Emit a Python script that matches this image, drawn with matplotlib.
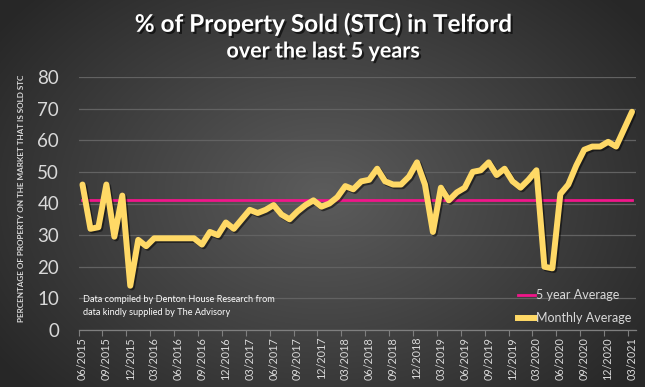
import numpy as np
import matplotlib
matplotlib.use("Agg")
import matplotlib.pyplot as plt
import matplotlib.patheffects as pe
from matplotlib.lines import Line2D

# ---------------- data ----------------
monthly_average = [
    46, 32, 32.5, 46, 29.5, 42.5, 14, 28.5, 26.5, 29,      # 06/2015 - 03/2016
    29, 29, 29, 29, 29, 27, 31, 30, 34, 32,                # 04/2016 - 01/2017
    35, 38, 37, 38, 39.5, 36.5, 35, 37.5, 39.5, 41,        # 02/2017 - 11/2017
    39, 40, 42, 45.5, 44.5, 47, 47.5, 51, 47, 46,          # 12/2017 - 09/2018
    46, 48.5, 53, 46, 31, 45, 41, 43.5, 45, 50,            # 10/2018 - 07/2019
    50.5, 53, 49, 51, 47, 45, 47.5, 50.5, 20, 19.5,        # 08/2019 - 05/2020
    43, 46, 52, 57, 58, 58, 59.5, 58, 63.5, 69,            # 06/2020 - 03/2021
]
five_year_average = 41.1
tick_labels = [
    "06/2015", "09/2015", "12/2015", "03/2016", "06/2016", "09/2016",
    "12/2016", "03/2017", "06/2017", "09/2017", "12/2017", "03/2018",
    "06/2018", "09/2018", "12/2018", "03/2019", "06/2019", "09/2019",
    "12/2019", "03/2020", "06/2020", "09/2020", "12/2020", "03/2021",
]
title = "% of Property Sold (STC) in Telford"
subtitle = "over the last 5 years"
y_label = "PERCENTAGE OF PROPERTY ON THE MARKET THAT IS SOLD STC"
note = "Data compiled by Denton House Research from\ndata kindly supplied by The Advisory"
legend_labels = ["5 year Average", "Monthly Average"]

# ---------------- style ----------------
FONT = ["Lato", "DejaVu Sans"]
plt.rcParams["font.family"] = FONT
W, H = 645, 387
YELLOW = "#FFD966"
PINK = "#F0168A"
TXT = "#D9D9D9"

fig = plt.figure(figsize=(W / 100, H / 100), dpi=100)

# radial gradient background
bg = fig.add_axes([0, 0, 1, 1], zorder=-10)
gy, gx = np.mgrid[0:H, 0:W]
r = np.sqrt(((gx - W * 0.5) / (W * 0.62)) ** 2 + ((gy - H * 0.5) / (H * 0.75)) ** 2)
r = np.clip(r, 0, 1)
inner = np.array([0x5C, 0x5C, 0x5C]) / 255
outer = np.array([0x27, 0x27, 0x27]) / 255
img = inner[None, None, :] * (1 - r[..., None]) + outer[None, None, :] * r[..., None]
bg.imshow(img, aspect="auto", extent=[0, 1, 0, 1])
bg.axis("off")

# main axes
left, right, top, bottom = 78.5, 636, 77, 330
ax = fig.add_axes([left / W, 1 - bottom / H, (right - left) / W, (bottom - top) / H])
ax.set_facecolor("none")

x = np.arange(len(monthly_average))
ax.set_xlim(-0.5, len(monthly_average) - 0.5)
ax.set_ylim(0, 80)
ax.set_yticks(np.arange(0, 81, 10))
ax.grid(axis="y", color="#626262", linewidth=0.9)
ax.set_axisbelow(True)
for s in ["top", "right", "left"]:
    ax.spines[s].set_visible(False)
ax.spines["bottom"].set_color("#7F7F7F")
ax.spines["bottom"].set_linewidth(0.9)

ax.set_xticks(np.arange(0, len(monthly_average), 3))
ax.set_xticklabels(tick_labels, rotation=90, fontsize=7.8, color=TXT)
ax.set_xticks(np.arange(-0.5, len(monthly_average), 3), minor=True)
ax.tick_params(axis="x", which="major", length=0, pad=5)
ax.tick_params(axis="x", which="minor", length=4, color="#7F7F7F", width=0.8)
ax.tick_params(axis="y", length=0, pad=14, labelsize=13.5, labelcolor=TXT)

ax.plot([x[0], x[-1]], [five_year_average, five_year_average], color=PINK,
        linewidth=2, zorder=3)
ax.plot(x, monthly_average, color=YELLOW, linewidth=4.3, solid_joinstyle="round",
        solid_capstyle="round", zorder=4,
        path_effects=[pe.SimpleLineShadow(offset=(1.2, -1.2), shadow_color="black", alpha=0.5),
                      pe.Normal()])

# texts
shadow = [pe.withSimplePatchShadow(offset=(1.5, -1.5), shadow_rgbFace="black", alpha=0.6)]
fig.text(323 / W, 1 - 24 / H, title, ha="center", va="center", fontsize=17.5,
         fontweight="bold", color="white", path_effects=shadow)
fig.text(323 / W, 1 - 51 / H, subtitle, ha="center", va="center", fontsize=15.5,
         fontweight="bold", color="white", path_effects=shadow)
fig.text(22 / W, 1 - 198 / H, y_label, rotation=90, ha="center", va="center",
         fontsize=5.9, fontweight="bold", color=TXT)
fig.text(83 / W, 1 - 295 / H, note, ha="left", va="top", fontsize=6.6,
         color="white", linespacing=1.55)

handles = [Line2D([], [], color=PINK, linewidth=2),
           Line2D([], [], color=YELLOW, linewidth=4.3)]
ax.legend(handles, legend_labels, loc="upper left",
          bbox_to_anchor=(512 / W, 1 - 283 / H), bbox_transform=fig.transFigure,
          frameon=False, fontsize=9, labelcolor=TXT, handlelength=1.3,
          handletextpad=0.1, borderpad=0, labelspacing=0.85)

fig.savefig("out.png", dpi=100)
